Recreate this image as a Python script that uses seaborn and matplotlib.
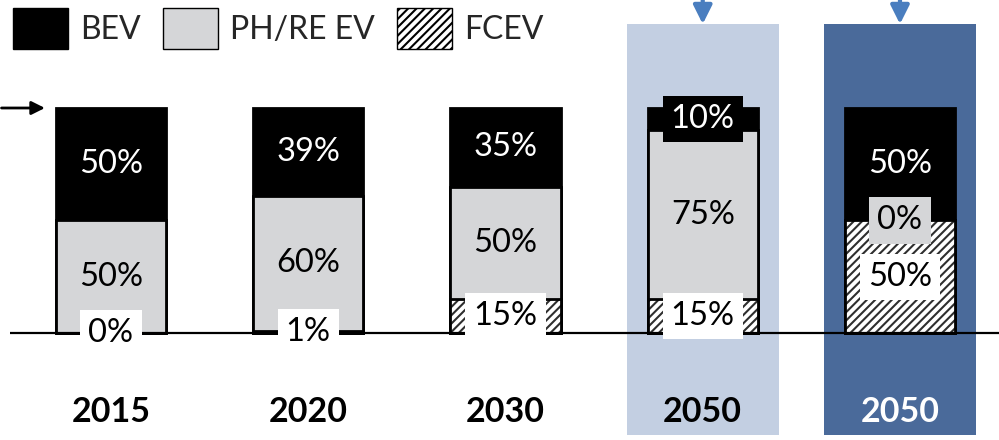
import matplotlib
matplotlib.use("Agg")
import matplotlib.pyplot as plt
from matplotlib.patches import Patch, Rectangle
import seaborn as sns
import pandas as pd

# Powertrain shares (%) per scenario column
scenarios = ["2015", "2020", "2030", "2050 A", "2050 B"]
year_labels = ["2015", "2020", "2030", "2050", "2050"]
bev = [50, 39, 35, 10, 50]
ph_re = [50, 60, 50, 75, 0]
fcev = [0, 1, 15, 15, 50]
legend_labels = ["BEV", "PH/RE EV", "FCEV"]

BLACK = "#000000"
GRAY = "#d5d6d8"
LIGHT_BLUE = "#c3cfe2"
DARK_BLUE = "#4a6a9a"
ARROW_BLUE = "#4a7ebf"
HATCH = "////"

sns.set_theme(style="white")
plt.rcParams["font.family"] = ["Lato", "DejaVu Sans"]
plt.rcParams["hatch.linewidth"] = 1.5

df = pd.DataFrame({"scenario": scenarios, "bev": bev, "ph": ph_re, "fcev": fcev})
df["lower"] = df["fcev"] + df["ph"]
df["total"] = df["lower"] + df["bev"]

fig = plt.figure(figsize=(9.99, 4.4), dpi=100)
ax = fig.add_axes([0, 0, 1, 1])

# highlighted 2050 columns
for i, c in [(3, LIGHT_BLUE), (4, DARK_BLUE)]:
    ax.add_patch(Rectangle((i - 0.385, -45.3), 0.77, 182.6, facecolor=c, lw=0, zorder=0))

W = 0.56
common = dict(data=df, x="scenario", order=scenarios, width=W, ax=ax, saturation=1)

# stacked bars drawn as cumulative layers
sns.barplot(y="total", color=BLACK, edgecolor=BLACK, linewidth=2, zorder=2, **common)
sns.barplot(y="lower", color=GRAY, edgecolor=BLACK, linewidth=2, zorder=3, **common)
sns.barplot(y="fcev", color="white", linewidth=0, zorder=4, **common)
for bar in ax.containers[-1]:
    bar.set_hatch(HATCH)
    bar.set_edgecolor("#2e2e2e")
    bar.set_linewidth(0)
sns.barplot(y="fcev", fill=False, color=BLACK, linewidth=2, zorder=5, **common)

# value labels
lab_kw = dict(ha="center", va="center", fontsize=23.5, zorder=10)
box = "square,pad=0.25"
for i in range(len(scenarios)):
    f, p, b = fcev[i], ph_re[i], bev[i]
    ax.text(i, f + p + b / 2, f"{b}%", color="white",
            bbox=dict(boxstyle=box, fc=BLACK, ec="none"), **lab_kw)
    ax.text(i, f + p / 2, f"{p}%", color=BLACK,
            bbox=dict(boxstyle=box, fc=GRAY, ec="none"), **lab_kw)
    ax.text(i, f / 2, f"{f}%", color=BLACK,
            bbox=dict(boxstyle=box, fc="white", ec="none"), **lab_kw)

# year labels
for i, lab in enumerate(year_labels):
    ax.text(i, -35.1, lab, ha="center", va="center", fontsize=24.5, fontweight="bold",
            color="white" if i == 4 else BLACK, zorder=10)

# baseline
ax.plot([-0.512, 4.6], [0, 0], color=BLACK, lw=1.6, zorder=6, solid_capstyle="butt")

# arrows
for i in (3, 4):
    ax.annotate("", xy=(i, 137.3), xytext=(i, 160),
                arrowprops=dict(arrowstyle="-|>", color=ARROW_BLUE, lw=3,
                                mutation_scale=28, shrinkA=0, shrinkB=0), zorder=7)
ax.annotate("", xy=(-0.335, 100), xytext=(-0.555, 100),
            arrowprops=dict(arrowstyle="-|>", color=BLACK, lw=2,
                            mutation_scale=20, shrinkA=0, shrinkB=0), zorder=7)

ax.set_xlim(-0.5627, 4.502)
ax.set_ylim(-47.56, 148)
ax.axis("off")

handles = [Patch(facecolor=BLACK, edgecolor=BLACK),
           Patch(facecolor=GRAY, edgecolor=BLACK),
           Patch(facecolor="white", edgecolor=BLACK, hatch=HATCH)]
fig.legend(handles, legend_labels, loc="upper left", bbox_to_anchor=(13 / 999, 1 - 8 / 440),
           ncol=3, frameon=False, fontsize=23, handlelength=1.72, handleheight=1.6,
           handletextpad=0.38, columnspacing=0.7, borderpad=0, borderaxespad=0)

fig.savefig("out.png", dpi=100)
